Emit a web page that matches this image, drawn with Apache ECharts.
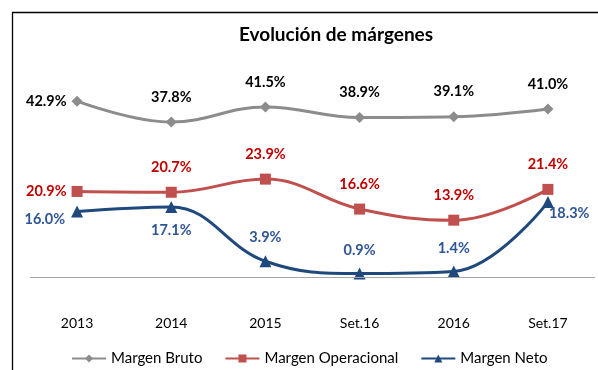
<!DOCTYPE html>
<html>
<head>
<meta charset="utf-8">
<script src="https://cdn.jsdelivr.net/npm/echarts@6/dist/echarts.min.js"></script>
<style>
  html, body { margin: 0; padding: 0; background: #fff; }
  #chart { width: 598px; height: 370px; }
</style>
</head>
<body>
<div id="chart"></div>
<script>
// Periods on the horizontal axis
const categories = ['2013', '2014', '2015', 'Set.16', '2016', 'Set.17'];

// Margins in percent
const margenBruto = [42.9, 37.8, 41.5, 38.9, 39.1, 41.0];
const margenOperacional = [20.9, 20.7, 23.9, 16.6, 13.9, 21.4];
const margenNeto = [16.0, 17.1, 3.9, 0.9, 1.4, 18.3];

// Where each point's value label sits relative to the marker
const brutoLabelPos = ['left', 'top', 'top', 'top', 'top', 'top'];
const operLabelPos = ['left', 'top', 'top', 'top', 'top', 'top'];
const netoLabelPos = ['leftBottom', 'bottom', 'top', 'top', 'top', 'rightBottom'];

const FONT = 'Lato, "Open Sans", sans-serif';

function pointData(values, positions, color) {
  return values.map((v, i) => {
    let pos = positions[i];
    let offset = [0, 0];
    let distance;
    if (pos === 'leftBottom') { pos = 'left'; offset = [0, 8]; distance = 6; }
    if (pos === 'rightBottom') { pos = 'right'; offset = [-5, 11]; distance = 0; }
    if (pos === 'left' && distance === undefined) distance = 5;
    const label = { position: pos, offset: offset, color: color };
    if (distance !== undefined) label.distance = distance;
    return { value: v, label: label };
  });
}

const chart = echarts.init(document.getElementById('chart'));

chart.setOption({
  animation: false,
  backgroundColor: '#fff',
  title: {
    text: 'Evolución de márgenes',
    left: 331,
    textAlign: 'center',
    top: 20,
    textStyle: { fontFamily: FONT, fontSize: 19, fontWeight: 'bold', color: '#000' }
  },
  graphic: [{
    type: 'polyline',
    shape: { points: [[12.5, 370], [12.5, 12.5], [598, 12.5]] },
    style: { stroke: '#000', lineWidth: 1.3, fill: null },
    silent: true
  }],
  legend: {
    left: 66,
    top: 346,
    itemWidth: 34,
    itemHeight: 10,
    itemGap: 22,
    textStyle: { fontFamily: FONT, fontSize: 15, color: '#000' },
    data: ['Margen Bruto', 'Margen Operacional', 'Margen Neto']
  },
  grid: { left: 30, right: 3, top: 72, bottom: 62 },
  xAxis: {
    type: 'category',
    data: categories,
    boundaryGap: true,
    axisLine: { show: false },
    axisTick: { show: false },
    axisLabel: { fontFamily: FONT, fontSize: 14, color: '#000', margin: 8 }
  },
  yAxis: {
    type: 'value',
    min: -7.5,
    max: 50,
    show: false,
    splitLine: { show: false }
  },
  series: [
    {
      name: 'Margen Bruto',
      type: 'line',
      smooth: 0.4,
      data: pointData(margenBruto, brutoLabelPos, '#000'),
      symbol: 'diamond',
      symbolSize: 11,
      lineStyle: { color: '#8C8C8C', width: 3 },
      itemStyle: { color: '#8C8C8C' },
      label: {
        show: true, distance: 12,
        formatter: p => p.value.toFixed(1) + '%',
        fontFamily: FONT, fontSize: 14.5, fontWeight: 'bold'
      },
      z: 3
    },
    {
      name: 'Margen Operacional',
      type: 'line',
      smooth: 0.4,
      data: pointData(margenOperacional, operLabelPos, '#C00000'),
      symbol: 'rect',
      symbolSize: 11,
      lineStyle: { color: '#C0504D', width: 3 },
      itemStyle: { color: '#C0504D' },
      label: {
        show: true, distance: 12,
        formatter: p => p.value.toFixed(1) + '%',
        fontFamily: FONT, fontSize: 14.5, fontWeight: 'bold'
      },
      z: 3
    },
    {
      name: 'Margen Neto',
      type: 'line',
      smooth: 0.4,
      data: pointData(margenNeto, netoLabelPos, '#2F5597'),
      symbol: 'triangle',
      symbolSize: 12,
      lineStyle: { color: '#1F497D', width: 3 },
      itemStyle: { color: '#1F497D' },
      label: {
        show: true, distance: 10,
        formatter: p => p.value.toFixed(1) + '%',
        fontFamily: FONT, fontSize: 14.5, fontWeight: 'bold'
      },
      markLine: {
        silent: true,
        symbol: 'none',
        label: { show: false },
        lineStyle: { color: '#A6A6A6', width: 1.2, type: 'solid' },
        data: [{ yAxis: 0 }]
      },
      z: 4
    }
  ]
});
</script>
</body>
</html>
